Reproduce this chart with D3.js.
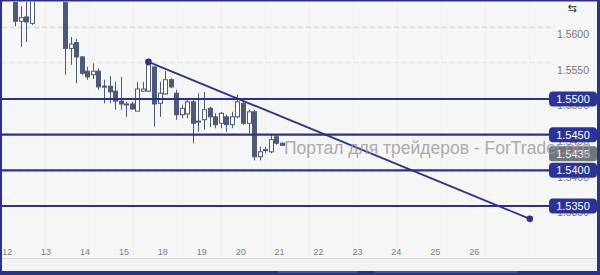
<!DOCTYPE html>
<html>
<head>
<meta charset="utf-8">
<script src="https://cdn.jsdelivr.net/npm/d3@7"></script>
<style>
body { margin: 0; background: #fff; }
svg { display: block; font-family: "Liberation Sans", Arial, sans-serif; }
</style>
</head>
<body>
<div id="chart"></div>
<script>
// H4 candles, one entry per bar (index 0 = first bar on the left)
var opens  = [1.5650,1.5609,1.5615,1.5606,1.5665,1.5680,1.5670,1.5675,1.5660,
              1.5655,1.5571,1.5579,1.5559,1.5539,1.5534,1.5539,1.5518,1.5518,1.5511,
              1.5497,1.5493,1.5493,1.5483,1.5511,1.5511,1.5545,1.5494,1.5507,1.5527,
              1.5508,1.5478,1.5479,1.5496,1.5468,1.5471,1.5487,1.5475,1.5466,1.5475,
              1.5464,1.5475,1.5494,1.5466,1.5482,1.5419,1.5429,1.5426,1.5447,1.5438];
var highs  = [1.5660,1.5630,1.5645,1.5672,1.5690,1.5695,1.5688,1.5685,1.5672,
              1.5662,1.5587,1.5584,1.5560,1.5545,1.5550,1.5543,1.5527,1.5532,1.5524,
              1.5531,1.5496,1.5496,1.5524,1.5524,1.5552,1.5546,1.5524,1.5539,1.5529,
              1.5513,1.5492,1.5499,1.5499,1.5508,1.5510,1.5489,1.5480,1.5482,1.5478,
              1.5482,1.5506,1.5496,1.5485,1.5485,1.5433,1.5433,1.5450,1.5450,1.5439];
var lows   = [1.5602,1.5573,1.5580,1.5604,1.5655,1.5662,1.5658,1.5650,1.5645,
              1.5534,1.5548,1.5522,1.5534,1.5527,1.5528,1.5513,1.5494,1.5494,1.5485,
              1.5485,1.5475,1.5485,1.5483,1.5510,1.5510,1.5461,1.5475,1.5506,1.5515,
              1.5471,1.5473,1.5473,1.5438,1.5454,1.5457,1.5461,1.5459,1.5459,1.5454,
              1.5459,1.5473,1.5464,1.5452,1.5414,1.5414,1.5424,1.5424,1.5436,1.5435];
var closes = [1.5609,1.5614,1.5608,1.5665,1.5680,1.5670,1.5675,1.5660,1.5655,
              1.5571,1.5577,1.5559,1.5536,1.5531,1.5539,1.5517,1.5517,1.5510,1.5497,
              1.5493,1.5492,1.5486,1.5514,1.5514,1.5548,1.5493,1.5508,1.5527,1.5517,
              1.5478,1.5487,1.5496,1.5466,1.5469,1.5485,1.5475,1.5464,1.5480,1.5464,
              1.5475,1.5496,1.5466,1.5482,1.5419,1.5426,1.5428,1.5443,1.5438,1.5435];

var dayLabels = ["12","13","14","15","18","19","20","21","22","23","24","25","26"];
var priceTicks = [1.5600, 1.5550, 1.5500, 1.5450, 1.5400, 1.5350];
var levels = [1.5500, 1.5450, 1.5400, 1.5350];
var trendBar = [24, 92.6];
var trendPrice = [1.5552, 1.5332];
var lastPrice = 1.5435;
var watermark = "Портал для трейдеров - ForTrader.org";

var width = 600, height = 275,
    plotTop = 2, plotBottom = 258, plotRight = 549;

var navy = "#2b3389", candleCol = "#4d5a76";

var x = d3.scaleLinear().domain([0, 92]).range([15, 526.5]);
var y = d3.scaleLinear().domain([1.5350, 1.5500]).range([206, 99]);

var svg = d3.select("#chart").append("svg")
    .attr("width", width)
    .attr("height", height);

svg.append("rect").attr("width", width).attr("height", height).attr("fill", "#f6f6f7");
svg.append("rect").attr("x", 0).attr("y", plotBottom).attr("width", width).attr("height", height - plotBottom)
    .attr("fill", "#f2f2f3");
svg.append("line").attr("x1", 0).attr("x2", width).attr("y1", plotBottom + 0.5).attr("y2", plotBottom + 0.5)
    .attr("stroke", "#dedee2");

// faint grid
svg.append("g").selectAll("line")
    .data(d3.range(45, plotRight, 44))
  .enter().append("line")
    .attr("x1", function(d) { return d + 0.5; })
    .attr("x2", function(d) { return d + 0.5; })
    .attr("y1", plotTop).attr("y2", plotBottom)
    .attr("stroke", "#e9e9ee")
    .attr("stroke-dasharray", "1,1");

svg.append("g").selectAll("line")
    .data(priceTicks)
  .enter().append("line")
    .attr("x1", plotTop).attr("x2", plotRight + 6)
    .attr("y1", function(d) { return Math.round(y(d)) - 0.5; })
    .attr("y2", function(d) { return Math.round(y(d)) - 0.5; })
    .attr("stroke", function(d, i) { return i == 0 ? "#e2dccb" : "#ebe8df"; })
    .attr("stroke-width", 1.5)
    .attr("stroke-dasharray", "5,3");

// x axis (day labels sit on day boundaries, 7 bars per day)
var xAxis = d3.axisBottom(x)
    .tickValues(dayLabels.map(function(d, k) { return 7 * k - 1.5; }))
    .tickFormat(function(d, i) { return dayLabels[i]; })
    .tickSize(0);

var gx = svg.append("g")
    .attr("transform", "translate(0," + 246 + ")")
    .call(xAxis);
gx.select(".domain").remove();
gx.selectAll("text")
    .attr("fill", "#808080")
    .style("font-size", "9px")
    .style("font-family", "'Liberation Sans', Arial, sans-serif");

// y axis labels on the right, drawn just under their grid line
var yAxis = d3.axisRight(y)
    .tickValues(priceTicks)
    .tickFormat(d3.format(".4f"))
    .tickSize(0);

var gy = svg.append("g")
    .attr("transform", "translate(" + 573 + ",6.5)")
    .call(yAxis);
gy.select(".domain").remove();
gy.selectAll("text")
    .attr("x", 0)
    .attr("text-anchor", "middle")
    .attr("fill", "#777")
    .style("font-size", "10.5px")
    .style("font-family", "'Liberation Sans', Arial, sans-serif");

// candles
svg.append("clipPath").attr("id", "clip")
  .append("rect").attr("x", 2).attr("y", plotTop).attr("width", plotRight - 2).attr("height", plotBottom - plotTop);

var bars = svg.append("g").attr("clip-path", "url(#clip)")
  .selectAll("g")
    .data(d3.range(opens.length))
  .enter().append("g");

bars.append("line")
    .attr("x1", function(i) { return Math.round(x(i)) + 0.5; })
    .attr("x2", function(i) { return Math.round(x(i)) + 0.5; })
    .attr("y1", function(i) { return y(highs[i]); })
    .attr("y2", function(i) { return y(lows[i]); })
    .attr("stroke", candleCol);

bars.append("rect")
    .attr("x", function(i) { return Math.round(x(i)) - 1.5; })
    .attr("width", 4)
    .attr("y", function(i) { return y(Math.max(opens[i], closes[i])); })
    .attr("height", function(i) { return Math.max(1, y(Math.min(opens[i], closes[i])) - y(Math.max(opens[i], closes[i]))); })
    .attr("fill", function(i) { return closes[i] < opens[i] ? candleCol : "#fff"; })
    .attr("stroke", candleCol);

// horizontal levels
svg.append("g").selectAll("line")
    .data(levels)
  .enter().append("line")
    .attr("x1", 0).attr("x2", plotRight + 4)
    .attr("y1", function(d) { return y(d); })
    .attr("y2", function(d) { return y(d); })
    .attr("stroke", navy)
    .attr("stroke-width", 2.2);

// trend line
svg.append("line")
    .attr("x1", x(trendBar[0])).attr("y1", y(trendPrice[0]))
    .attr("x2", x(trendBar[1])).attr("y2", y(trendPrice[1]))
    .attr("stroke", navy)
    .attr("stroke-width", 1.8);

svg.append("g").selectAll("circle")
    .data(trendBar)
  .enter().append("circle")
    .attr("cx", function(d) { return x(d); })
    .attr("cy", function(d, i) { return y(trendPrice[i]); })
    .attr("r", 3.3)
    .attr("fill", navy);

// current price badge (pushed below the 1.5450 badge)
var lastY = y(lastPrice) + 8.5;
svg.append("rect")
    .attr("x", plotRight).attr("y", lastY - 7.5)
    .attr("width", 48).attr("height", 15)
    .attr("rx", 3)
    .attr("fill", "#70757e");
svg.append("text")
    .attr("x", 573).attr("y", lastY + 4)
    .attr("text-anchor", "middle")
    .attr("fill", "#fff")
    .style("font-size", "11px")
    .text(d3.format(".4f")(lastPrice));

// level badges
var badges = svg.append("g").selectAll("g")
    .data(levels)
  .enter().append("g")
    .attr("transform", function(d) { return "translate(" + plotRight + "," + y(d) + ")"; });

badges.append("rect")
    .attr("y", -7.5)
    .attr("width", 48).attr("height", 15)
    .attr("rx", 4)
    .attr("fill", "#2b3494");

badges.append("text")
    .attr("x", 24).attr("y", 4)
    .attr("text-anchor", "middle")
    .attr("fill", "#fff")
    .style("font-size", "11px")
    .text(d3.format(".4f"));

// watermark
svg.append("text")
    .attr("x", 284).attr("y", 154)
    .attr("fill", "#9a9a9a")
    .attr("opacity", 0.8)
    .style("font-size", "17.5px")
    .text(watermark);

// little chart-shift icon, top right
svg.append("text")
    .attr("x", 572).attr("y", 12)
    .attr("text-anchor", "middle")
    .attr("fill", "#333")
    .style("font-size", "11px")
    .style("font-family", "'DejaVu Sans'")
    .text("⇆");

// frame
svg.append("rect").attr("x", 0).attr("y", 0).attr("width", 2).attr("height", height).attr("fill", navy);
svg.append("rect").attr("x", 0).attr("y", 0).attr("width", width).attr("height", 1.5).attr("fill", navy);
svg.append("rect").attr("x", width - 3).attr("y", 0).attr("width", 3).attr("height", height).attr("fill", navy);
svg.append("rect").attr("x", 0).attr("y", 271).attr("width", width).attr("height", 4).attr("fill", navy);
svg.append("g").selectAll("rect")
    .data([[278, 357], [375, 517]])
  .enter().append("rect")
    .attr("x", function(d) { return d[0]; })
    .attr("width", function(d) { return d[1] - d[0]; })
    .attr("y", 271).attr("height", 2)
    .attr("fill", "#4650a6");
</script>
</body>
</html>
